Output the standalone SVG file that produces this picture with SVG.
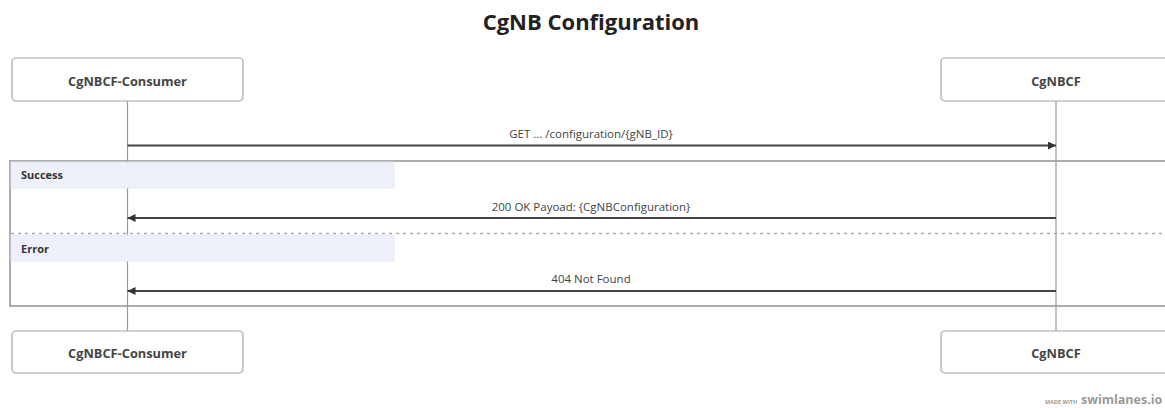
<svg xmlns="http://www.w3.org/2000/svg" width="1165" height="408" viewBox="0 0 1165 408">
  <defs>
    <style>
      .title { font-family: "Open Sans", "Noto Sans", sans-serif; font-weight: 700; font-size: 22px; fill: #222; }
      .actor rect { fill: #ffffff; stroke: #a6a6a6; stroke-width: 1.2; }
      .actor text { font-family: "Open Sans", "Noto Sans", sans-serif; font-weight: 700; font-size: 12.8px; fill: #444; text-anchor: middle; }
      .lifeline { stroke: #9a9a9a; stroke-width: 1.2; }
      .msg { stroke: #444; stroke-width: 1.8; fill: none; }
      .label { font-family: "Open Sans", "Noto Sans", sans-serif; font-size: 11.5px; fill: #444; text-anchor: middle; }
      .frame { fill: none; stroke: #999; stroke-width: 1.6; }
      .sect rect { fill: #eef1fa; stroke: #e4e8f3; stroke-width: 0.8; }
      .sect text { font-family: "Open Sans", "Noto Sans", sans-serif; font-weight: 700; font-size: 11px; fill: #333; }
      .divider { stroke: #aaa; stroke-width: 1.4; stroke-dasharray: 3 4; }
      .brand { font-family: "Open Sans", "Noto Sans", sans-serif; fill: #9a9a9a; font-weight: 700; }
    </style>
    <marker id="arrow" viewBox="0 0 10 10" refX="10" refY="5" markerWidth="8" markerHeight="8" markerUnits="userSpaceOnUse" orient="auto-start-reverse">
      <path d="M0,0 L10,5 L0,10 z" fill="#333"/>
    </marker>
  </defs>

  <rect width="1165" height="408" fill="#ffffff"/>

  <text class="title" x="591" y="30" text-anchor="middle">CgNB Configuration</text>

  <g id="lifelines">
    <line class="lifeline" x1="127.5" y1="101" x2="127.5" y2="331"/>
    <line class="lifeline" x1="1056" y1="101" x2="1056" y2="331"/>
  </g>

  <g id="frame">
    <rect class="frame" x="10" y="161" width="1170" height="145"/>
    <g class="sect" id="section-success">
      <rect x="11" y="162" width="383" height="26"/>
      <text x="21" y="179">Success</text>
    </g>
    <line class="divider" x1="11" y1="233.5" x2="1165" y2="233.5"/>
    <g class="sect" id="section-error">
      <rect x="11" y="235" width="383" height="26"/>
      <text x="21" y="252.5">Error</text>
    </g>
  </g>

  <g id="connectors">
    <line class="msg" x1="127.5" y1="145.5" x2="1056" y2="145.5" marker-end="url(#arrow)"/>
    <text class="label" x="591" y="138">GET ... /configuration/{gNB_ID}</text>
    <line class="msg" x1="1056" y1="218" x2="127.5" y2="218" marker-end="url(#arrow)"/>
    <text class="label" x="591" y="210.5">200 OK Payoad: {CgNBConfiguration}</text>
    <line class="msg" x1="1056" y1="291" x2="127.5" y2="291" marker-end="url(#arrow)"/>
    <text class="label" x="591" y="283">404 Not Found</text>
  </g>

  <g id="consumer-top" class="actor">
    <rect x="12" y="58" width="231" height="43" rx="4"/>
    <text x="127.5" y="85.5">CgNBCF-Consumer</text>
  </g>
  <g id="cgnbcf-top" class="actor">
    <rect x="941" y="58" width="231" height="43" rx="4"/>
    <text x="1056" y="85.5">CgNBCF</text>
  </g>
  <g id="consumer-bottom" class="actor">
    <rect x="12" y="331" width="231" height="42" rx="4"/>
    <text x="127.5" y="358">CgNBCF-Consumer</text>
  </g>
  <g id="cgnbcf-bottom" class="actor">
    <rect x="941" y="331" width="231" height="42" rx="4"/>
    <text x="1056" y="358">CgNBCF</text>
  </g>

  <g id="brand">
    <text class="brand" x="1045" y="404" font-size="5.5" font-weight="400">MADE WITH</text>
    <text class="brand" x="1081" y="404" font-size="12.5">swimlanes.io</text>
  </g>
</svg>
